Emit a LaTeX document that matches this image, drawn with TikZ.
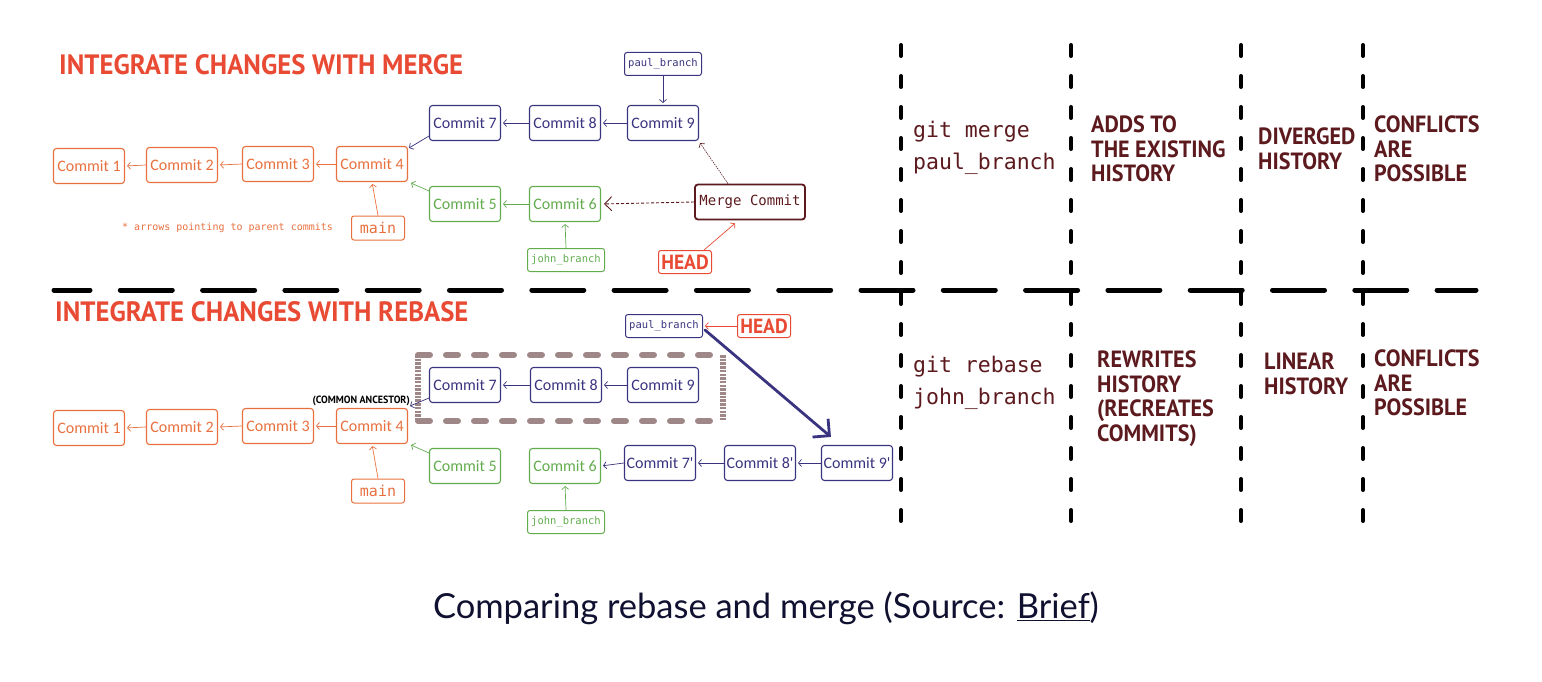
\documentclass[tikz,border=0pt]{standalone}
\usepackage{fontspec}
\usetikzlibrary{arrows.meta}
\setmainfont{Carlito}
\newfontfamily\hand{Carlito}
\newfontfamily\mono{DejaVu Sans Mono}
\newfontfamily\headf[FakeStretch=0.955]{PT Sans}
\newfontfamily\colf[FakeStretch=0.94]{PT Sans}
\newfontfamily\capt{Lato}
\definecolor{corange}{RGB}{232,112,62}
\definecolor{cred}{RGB}{232,74,52}
\definecolor{cblue}{RGB}{58,52,128}
\definecolor{cgreen}{RGB}{98,172,78}
\definecolor{cmaroon}{RGB}{92,26,30}
\definecolor{cboxc}{RGB}{160,135,135}
\definecolor{ccap}{RGB}{16,16,48}
\tikzset{
  commit/.style={draw, rounded corners=3pt, line width=1.1pt, minimum width=71pt, minimum height=35pt, inner sep=0pt, font=\hand\fontsize{16}{17}\selectfont},
  ocommit/.style={commit, draw=corange, text=corange},
  bcommit/.style={commit, draw=cblue, text=cblue},
  gcommit/.style={commit, draw=cgreen, text=cgreen},
  lbl/.style={draw, rounded corners=2.5pt, line width=1pt, minimum width=77pt, minimum height=23pt, inner sep=0pt, font=\mono\fontsize{10.5}{11}\selectfont},
  mainbox/.style={draw=corange, text=corange, rounded corners=2.5pt, line width=1pt, minimum width=53pt, minimum height=24pt, inner sep=0pt, font=\mono\fontsize{15}{16}\selectfont},
  headbox/.style={draw=cred, text=cred, rounded corners=2.5pt, line width=1pt, minimum width=53pt, minimum height=23pt, inner sep=0pt, font=\headf\bfseries\fontsize{20.5}{22}\selectfont},
  title/.style={anchor=west, text=cred, inner sep=0pt, font=\headf\bfseries\fontsize{28}{30}\selectfont},
  parr/.style={-{Straight Barb[length=3pt,width=7pt]}, line width=0.7pt, shorten >=2pt},
  coltext/.style={anchor=north west, align=left, inner sep=0pt, text=cmaroon, font=\colf\bfseries\fontsize{23.5}{24.5}\selectfont},
  gittext/.style={anchor=north west, align=left, inner sep=0pt, text=cmaroon, font=\mono\fontsize{21.5}{32}\selectfont},
  vdash/.style={line width=4pt, line cap=round, dash pattern=on 11pt off 20pt, black},
  hdash/.style={line width=5pt, line cap=round, dash pattern=on 52pt off 30.3pt, dash phase=16pt, black}
}
\begin{document}
\begin{tikzpicture}[x=1pt,y=-1pt]
\useasboundingbox (0,0) rectangle (1542,682);
% separators
\draw[hdash] (54,290) -- (1476,290);
\foreach \xx in {901,1071,1241,1363} \draw[vdash] (\xx,45) -- (\xx,540);

% ===== MERGE =====
\node[title] (t1) at (59,65) {INTEGRATE CHANGES WITH MERGE};
\node[ocommit] (m1) at (89,166) {Commit 1};
\node[ocommit] (m2) at (182,165) {Commit 2};
\node[ocommit] (m3) at (278,164) {Commit 3};
\node[ocommit] (m4) at (372,164) {Commit 4};
\node[mainbox] (mmain) at (378,228) {main};
\node[anchor=west, inner sep=0pt, text=corange, font=\mono\fontsize{10}{11}\selectfont] (note) at (122,228) {* arrows pointing to parent commits};
\node[bcommit] (m7) at (465,123) {Commit 7};
\node[bcommit] (m8) at (565,123) {Commit 8};
\node[bcommit] (m9) at (663,123) {Commit 9};
\node[lbl, draw=cblue, text=cblue] (mpaul) at (663,64) {paul\_branch};
\node[gcommit] (m5) at (465,204) {Commit 5};
\node[gcommit] (m6) at (565,204) {Commit 6};
\node[lbl, draw=cgreen, text=cgreen] (mjohn) at (566,260) {john\_branch};
\node[draw=cmaroon, text=cmaroon, rounded corners=3pt, line width=1.8pt, minimum width=110pt, minimum height=35pt, inner sep=0pt, font=\mono\fontsize{14}{15}\selectfont] (mc) at (750,202) {Merge Commit};
\node[headbox] (mhead) at (685,262) {HEAD};

\draw[parr, corange] (m2.west) -- (m1.east);
\draw[parr, corange] (m3.west) -- (m2.east);
\draw[parr, corange] (m4.west) -- (m3.east);
\draw[parr, corange] (mmain.north) -- (m4.south);
\draw[parr, cblue, shorten >=0pt] ([shift={(0,-5)}]m7.south west) -- ([shift={(1,2)}]m4.north east);
\draw[parr, cgreen, shorten >=0pt] ([shift={(0,5)}]m5.north west) -- ([shift={(3,1)}]m4.south east);
\draw[parr, cblue] (m8.west) -- (m7.east);
\draw[parr, cblue] (m9.west) -- (m8.east);
\draw[parr, cblue] (mpaul.south) -- (m9.north);
\draw[parr, cgreen] (m6.west) -- (m5.east);
\draw[parr, cgreen] (mjohn.north) -- (m6.south);
\draw[-{Straight Barb[length=7pt,width=14pt]}, line width=0.9pt, cmaroon, dash pattern=on 3pt off 2pt, shorten >=3pt] (mc.west) -- (m6.east);
\draw[parr, cmaroon, dash pattern=on 1.5pt off 1pt, line width=0.6pt, shorten >=0pt] ([shift={(-22,0)}]mc.north) -- ([shift={(1,2)}]m9.south east);
\draw[parr, cred, shorten >=0pt] ([shift={(-8,0)}]mhead.north east) -- ([shift={(-15,3)}]mc.south);

\node[gittext] (g1) at (913,121) {git merge\\paul\_branch};
\node[coltext] (a1) at (1091,116) {ADDS TO\\THE EXISTING\\HISTORY};
\node[coltext] (b1) at (1258,128) {DIVERGED\\HISTORY};
\node[coltext] (c1) at (1374,116) {CONFLICTS\\ARE\\POSSIBLE};

% ===== REBASE =====
\node[title] (t2) at (55,312) {INTEGRATE CHANGES WITH REBASE};
\draw[cboxc, line width=6pt, line cap=round, dash pattern=on 12pt off 16pt] (418,355) -- (723,355);
\draw[cboxc, line width=6pt, line cap=round, dash pattern=on 12pt off 16pt] (418,421) -- (723,421);
\draw[cboxc, line width=6pt, dash pattern=on 2.5pt off 1.2pt] (418,355) -- (418,421);
\draw[cboxc, line width=6pt, dash pattern=on 2.5pt off 1.2pt] (723,355) -- (723,421);
\node[ocommit] (r1) at (89,428) {Commit 1};
\node[ocommit] (r2) at (182,427) {Commit 2};
\node[ocommit] (r3) at (278,426) {Commit 3};
\node[ocommit] (r4) at (372,426) {Commit 4};
\node[mainbox] (rmain) at (378,491) {main};
\node[anchor=east, inner sep=0pt, font=\headf\bfseries\fontsize{10.5}{11}\selectfont] (ranc) at (410,401) {(COMMON ANCESTOR)};
\node[bcommit] (r7) at (465,385) {Commit 7};
\node[bcommit] (r8) at (566,385) {Commit 8};
\node[bcommit] (r9) at (663,385) {Commit 9};
\node[lbl, draw=cblue, text=cblue] (rpaul) at (664,326) {paul\_branch};
\node[headbox] (rhead) at (764,326) {HEAD};
\node[gcommit] (r5) at (465,466) {Commit 5};
\node[gcommit] (r6) at (565,466) {Commit 6};
\node[lbl, draw=cgreen, text=cgreen] (rjohn) at (566,522) {john\_branch};
\node[bcommit] (r7p) at (660,463) {Commit 7'};
\node[bcommit] (r8p) at (760,463) {Commit 8'};
\node[bcommit] (r9p) at (857,463) {Commit 9'};

\draw[parr, corange] (r2.west) -- (r1.east);
\draw[parr, corange] (r3.west) -- (r2.east);
\draw[parr, corange] (r4.west) -- (r3.east);
\draw[parr, corange] (rmain.north) -- (r4.south);
\draw[parr, cblue, shorten >=0pt] ([shift={(0,-5)}]r7.south west) -- ([shift={(2,-2)}]r4.north east);
\draw[parr, cgreen, shorten >=0pt] ([shift={(0,5)}]r5.north west) -- ([shift={(3,1)}]r4.south east);
\draw[parr, cblue] (r8.west) -- (r7.east);
\draw[parr, cblue] (r9.west) -- (r8.east);
\draw[parr, cgreen] (rjohn.north) -- (r6.south);
\draw[parr, cblue] (r7p.west) -- (r6.east);
\draw[parr, cblue] (r8p.west) -- (r7p.east);
\draw[parr, cblue] (r9p.west) -- (r8p.east);
\draw[parr, cred] (rhead.west) -- (rpaul.east);
\draw[-{Straight Barb[length=12pt,width=24pt]}, line width=2.8pt, cblue, line cap=round] ([shift={(2,4)}]rpaul.east) -- ([shift={(10,-8)}]r9p.north west);

\node[gittext] (g2) at (913,356) {git rebase\\john\_branch};
\node[coltext] (a2) at (1097,351) {REWRITES\\HISTORY\\(RECREATES\\COMMITS)};
\node[coltext] (b2) at (1264,353) {LINEAR\\HISTORY};
\node[coltext] (c2) at (1374,350) {CONFLICTS\\ARE\\POSSIBLE};

% caption
\node[text=ccap, inner sep=0pt, font=\capt\fontsize{34.5}{37}\selectfont] (cap) at (766,608) {Comparing rebase and merge (Source: \underline{Brief})};
\end{tikzpicture}
\end{document}
